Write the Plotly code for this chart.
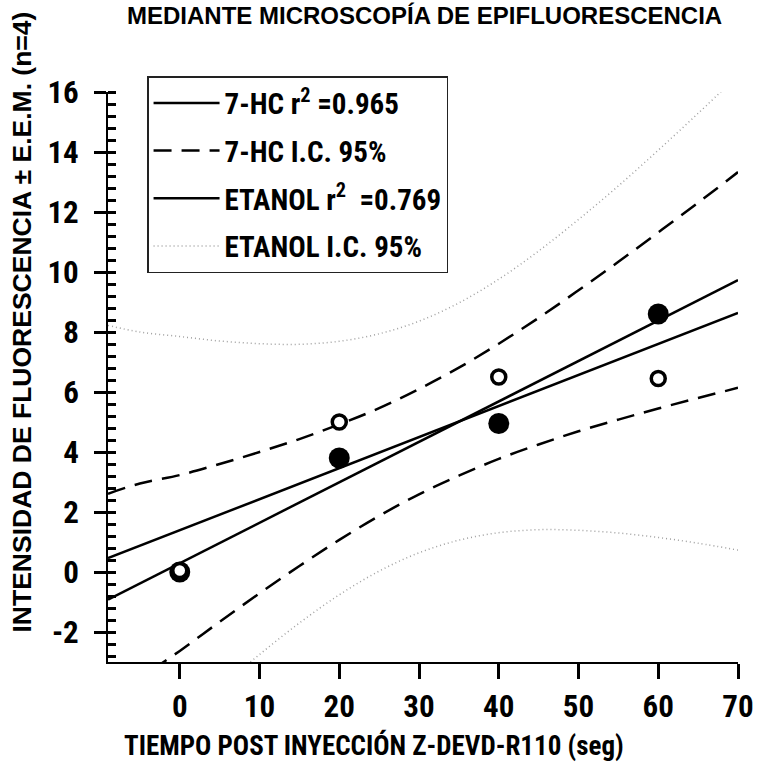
import plotly.graph_objects as go

# ---------------- data ----------------
time_s = [0, 20, 40, 60]
hc7_y = [0.0, 3.8, 4.95, 8.6]          # 7-HC (filled circles)
etanol_y = [0.05, 5.0, 6.5, 6.45]      # ETANOL (open circles)

# regression lines (read at the plot edges)
line_x = [-9, 70]
hc7_fit = [-0.92, 9.73]
etanol_fit = [0.46, 8.64]

# 95% confidence bands
band_x = [-9, -5, 0, 5, 10, 15, 20, 25, 30, 35, 40, 45, 50, 55, 60, 65, 70]
hc7_upper = [2.61, 2.95, 3.23, 3.60, 4.00, 4.43, 4.92, 5.46, 6.10, 6.81, 7.61, 8.47, 9.39, 10.34, 11.32, 12.31, 13.33]
hc7_lower = [-4.44, -3.55, -2.63, -1.66, -0.71, 0.20, 1.07, 1.87, 2.59, 3.21, 3.77, 4.25, 4.69, 5.08, 5.45, 5.80, 6.14]
et_upper = [8.22, 8.00, 7.85, 7.70, 7.61, 7.59, 7.69, 7.94, 8.36, 8.97, 9.76, 10.70, 11.75, 12.87, 14.06, 15.29, 16.55]
et_lower = [-7.29, -6.35, -5.06, -3.87, -2.75, -1.70, -0.76, 0.03, 0.64, 1.06, 1.31, 1.41, 1.39, 1.30, 1.15, 0.96, 0.73]

x_tick_vals = [0, 10, 20, 30, 40, 50, 60, 70]
x_tick_text = ["0", "10", "20", "30", "40", "50", "60", "70"]
y_tick_vals = [-2, 0, 2, 4, 6, 8, 10, 12, 14, 16]
y_tick_text = ["-2", "0", "2", "4", "6", "8", "10", "12", "14", "16"]

NARROW = "Roboto Condensed, Liberation Sans Narrow, Arial Narrow, DejaVu Sans Condensed, sans-serif"
WIDE = "Liberation Sans, Arial, sans-serif"

DOT = dict(color="#a0a0a0", width=1.5, dash="1px,3px", shape="spline")
DASH = dict(color="black", width=2.5, dash="18px,10px", shape="spline")
SOLID = dict(color="black", width=2.5)

fig = go.Figure()

# 7-HC fit + band
fig.add_trace(go.Scatter(x=line_x, y=hc7_fit, mode="lines", line=SOLID,
                         name="7-HC r<sup>2</sup> =0.965", legendgroup="a"))
fig.add_trace(go.Scatter(x=band_x, y=hc7_upper, mode="lines", line=DASH,
                         name="7-HC I.C. 95%", legendgroup="b"))
fig.add_trace(go.Scatter(x=band_x, y=hc7_lower, mode="lines", line=DASH,
                         legendgroup="b", showlegend=False))
# ETANOL fit + band
fig.add_trace(go.Scatter(x=line_x, y=etanol_fit, mode="lines", line=SOLID,
                         name="ETANOL r<sup>2</sup>  =0.769", legendgroup="c"))
fig.add_trace(go.Scatter(x=band_x, y=et_upper, mode="lines", line=DOT,
                         name="ETANOL I.C. 95%", legendgroup="d"))
fig.add_trace(go.Scatter(x=band_x, y=et_lower, mode="lines", line=DOT,
                         legendgroup="d", showlegend=False))
# points
fig.add_trace(go.Scatter(x=time_s, y=hc7_y, mode="markers", showlegend=False,
                         marker=dict(symbol="circle", size=21, color="black", line=dict(width=0))))
fig.add_trace(go.Scatter(x=time_s, y=etanol_y, mode="markers", showlegend=False,
                         marker=dict(symbol="circle", size=14, color="white", line=dict(width=3.5, color="black"))))

fig.update_layout(
    width=766, height=783,
    margin=dict(l=108, r=17, t=92, b=121),
    paper_bgcolor="white", plot_bgcolor="white",
    showlegend=True,
    legend=dict(x=0.062, y=1.028, xanchor="left", yanchor="top",
                bgcolor="white", bordercolor="#222", borderwidth=1.5,
                font=dict(family=NARROW, size=29, color="black", weight="bold"),
                itemwidth=66, tracegroupgap=7, traceorder="grouped"),
    xaxis=dict(range=[-9, 70], showline=True, linewidth=2, linecolor="black", showgrid=False, zeroline=False,
               tickmode="array", tickvals=x_tick_vals, ticktext=x_tick_text,
               ticks="outside", ticklen=15, tickwidth=3, tickcolor="black",
               tickfont=dict(family=NARROW, size=31, color="black", weight=700),
               ticklabelstandoff=1),
    yaxis=dict(range=[-3, 16], showline=True, linewidth=2, linecolor="black", showgrid=False, zeroline=False,
               tickmode="array", tickvals=y_tick_vals, ticktext=y_tick_text,
               ticks="outside", ticklen=12, tickwidth=3, tickcolor="black",
               tickfont=dict(family=NARROW, size=31, color="black", weight=700),
               ticklabelstandoff=9,
               minor=dict(tickmode="linear", tick0=0, dtick=0.4, ticks="inside", ticklen=8, tickwidth=3,
                          tickcolor="black", showgrid=False)),
)

fig.add_annotation(text="TIEMPO POST INYECCIÓN Z-DEVD-R110 (seg)", xref="paper", yref="paper",
                   x=(379 - 108) / 641, y=-(745 - 662) / 570, xanchor="center", yanchor="middle", showarrow=False,
                   font=dict(family=NARROW, size=27, color="black", weight="bold"))
fig.add_annotation(text="INTENSIDAD DE FLUORESCENCIA ± E.E.M. (n=4)", xref="paper", yref="paper",
                   x=-(108 - 21) / 641, y=(662 - 322) / 570, xanchor="center", yanchor="middle", textangle=-90,
                   showarrow=False, font=dict(family=WIDE, size=26.5, color="black", weight="bold"))
fig.add_annotation(text="MEDIANTE MICROSCOPÍA DE EPIFLUORESCENCIA", xref="paper", yref="paper",
                   x=(430 - 108) / 641, y=1 + 92 / 570, xanchor="center", yanchor="top",
                   showarrow=False, font=dict(family=WIDE, size=24, color="black", weight="bold"))

fig.write_html("out.html")
